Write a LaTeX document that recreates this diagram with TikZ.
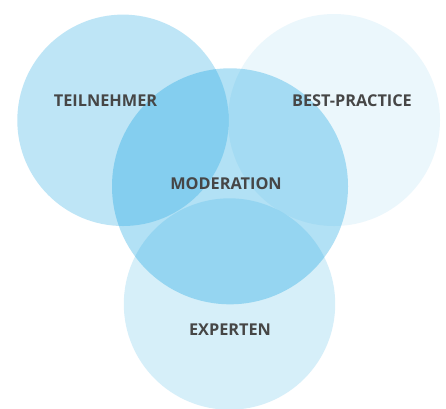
\documentclass[tikz,border=0pt]{standalone}
\usepackage{fontspec}
\setmainfont{Open Sans}
\definecolor{vennbase}{RGB}{0,156,223}
\definecolor{labelgray}{RGB}{70,70,70}
\begin{document}
\begin{tikzpicture}[x=1pt,y=-1pt,
  venn/.style={fill=vennbase,draw=none},
  lbl/.style={anchor=base,inner sep=0pt,text=labelgray,font=\fontsize{16.3}{18}\selectfont\bfseries}]
\useasboundingbox (0,0) rectangle (446,408);
\fill[white] (0,0) rectangle (446,408);
\path[venn,fill opacity=0.255] (123,120.3) circle[radius=105.7pt];
\path[venn,fill opacity=0.08] (334,120) circle[radius=106pt];
\path[venn,fill opacity=0.16] (229.5,304) circle[radius=105.7pt];
\path[venn,fill opacity=0.30] (230,186.3) circle[radius=118pt];
\node[lbl] (teil) at (105.5,106.5) {TEILNEHMER};
\node[lbl] (best) at (352,106.5) {BEST-PRACTICE};
\node[lbl] (mod) at (226,189.5) {MODERATION};
\node[lbl] (exp) at (230,335.5) {EXPERTEN};
\end{tikzpicture}
\end{document}
